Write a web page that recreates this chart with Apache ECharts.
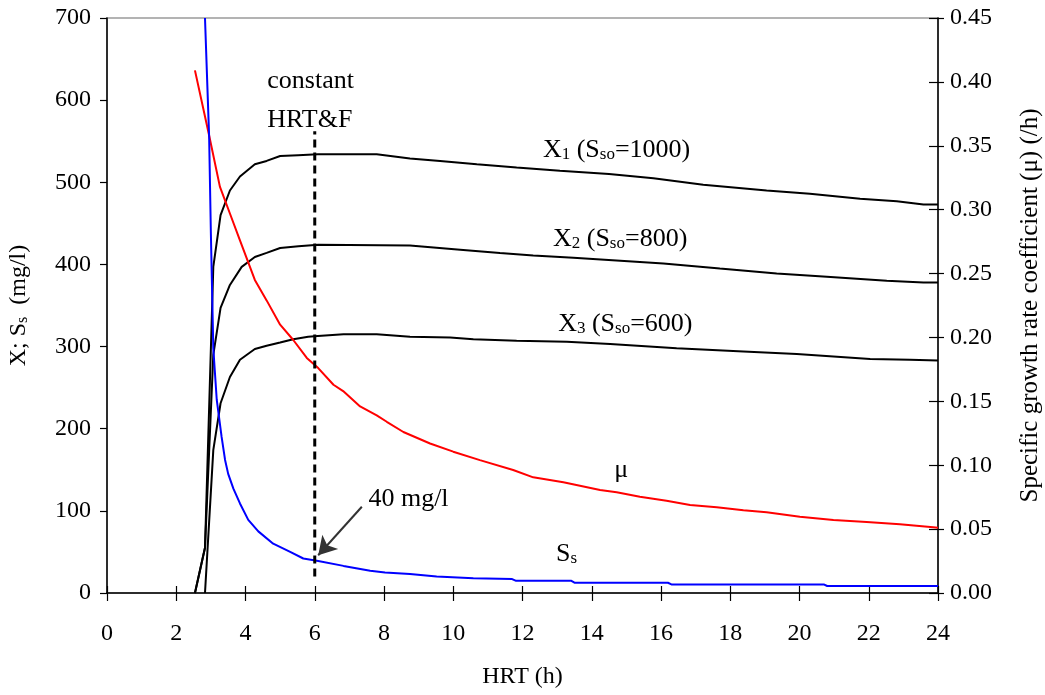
<!DOCTYPE html>
<html>
<head>
<meta charset="utf-8">
<script src="https://cdn.jsdelivr.net/npm/echarts@6/dist/echarts.min.js"></script>
<style>html,body{margin:0;padding:0;background:#fff}#c{width:1045px;height:695px}</style>
</head>
<body>
<div id="c"></div>
<script>
// ---- data ----
const xTicks = [0, 24, 2];
const leftTicks = [0, 700, 100];
const rightTicks = [0, 0.45, 0.05];

const x1X = [2.54, 2.83, 3.07, 3.28, 3.55, 3.84, 4.27, 4.61, 5.0, 5.52, 6.09, 7.79, 8.75, 9.62, 10.68, 11.83, 13.08, 14.5, 15.78, 17.22, 19.05, 20.3, 21.75, 22.81, 23.58, 24];
const x1Y = [0, 55, 397, 460, 490, 507, 522, 526, 532, 533, 534, 534, 529, 526, 522, 518, 514, 510, 505, 497, 490, 486, 480, 477, 473, 473];

const x2X = [2.54, 2.83, 3.07, 3.28, 3.55, 3.89, 4.27, 4.61, 5.0, 5.53, 6.1, 8.75, 10.2, 11.35, 12.31, 13.47, 14.6, 16.07, 17.7, 19.34, 20.79, 22.52, 23.58, 24];
const x2Y = [0, 55, 290, 347, 375, 397, 409, 414, 420, 422, 424, 423, 418, 414, 411, 408, 405, 401, 395, 389, 385, 380, 378, 378];

const x3X = [2.83, 3.07, 3.28, 3.55, 3.84, 4.27, 4.61, 5.0, 5.38, 5.81, 6.09, 6.83, 7.79, 8.75, 9.91, 10.58, 11.83, 13.28, 14.53, 16.45, 18.38, 19.92, 22.04, 23.19, 24];
const x3Y = [0, 174, 231, 263, 284, 297, 301, 305, 309, 312, 313, 315, 315, 312, 311, 309, 307, 306, 303, 298, 294, 291, 285, 284, 283];

const ssX = [2.83, 2.95, 3.0, 3.07, 3.17, 3.31, 3.41, 3.5, 3.65, 3.84, 4.08, 4.37, 4.8, 5.29, 5.67, 6.1, 6.83, 7.6, 8.03, 8.75, 9.52, 10.58, 11.7, 11.8, 13.4, 13.5, 16.2, 16.3, 20.7, 20.8, 24];
const ssY = [700, 555, 438, 298, 235, 190, 162, 145, 127, 109, 89, 75, 60, 50, 42, 39, 33, 27, 25, 23, 20, 18, 17, 15, 15, 12.5, 12.5, 10.5, 10.5, 8.5, 8.5];

const muX = [2.54, 2.95, 3.26, 3.55, 3.84, 4.27, 4.61, 5.0, 5.38, 5.77, 6.1, 6.54, 6.82, 7.31, 7.79, 8.08, 8.56, 9.33, 10.0, 10.77, 11.73, 12.31, 13.18, 14.24, 14.72, 15.39, 16.16, 16.84, 17.61, 18.38, 19.05, 20.01, 20.98, 21.94, 22.9, 23.86, 24];
const muY = [0.409, 0.358, 0.318, 0.297, 0.276, 0.245, 0.229, 0.210, 0.198, 0.184, 0.176, 0.163, 0.158, 0.146, 0.139, 0.134, 0.126, 0.117, 0.1106, 0.104, 0.0963, 0.0905, 0.0866, 0.0806, 0.0788, 0.0754, 0.0722, 0.0689, 0.0671, 0.0647, 0.0632, 0.0597, 0.0571, 0.0556, 0.0538, 0.0514, 0.051];

const constHRT = 6;
const dashY = [20, 562];
const arrowFrom = [7.36, 105];
const arrowTo = [6.1, 46];

// annotation anchors (data coordinates, left axis)
const annotations = [
  { at: [12.59, 542], text: '{b|X}{s|1}{b| (S}{s|so}{b|=1000)}' },
  { at: [12.88, 433], text: '{b|X}{s|2}{b| (S}{s|so}{b|=800)}' },
  { at: [13.03, 330], text: '{b|X}{s|3}{b| (S}{s|so}{b|=600)}' },
  { at: [14.65, 152], text: '{b|μ}' },
  { at: [12.97, 50], text: '{b|S}{s|s}' },
  { at: [4.63, 625], text: '{b|constant}' },
  { at: [4.63, 578], text: '{b|HRT&F}' },
  { at: [7.55, 117], text: '{b|40 mg/l}' }
];

// ---- chart ----
const FONT = '"Liberation Serif", "Times New Roman", serif';
const FS = 24;
const AFS = 26;
const rich = {
  b: { fontFamily: FONT, fontSize: AFS, color: '#000', verticalAlign: 'bottom', lineHeight: 30 },
  s: { fontFamily: FONT, fontSize: 17, color: '#000', verticalAlign: 'bottom', lineHeight: 27 }
};
const richAxis = {
  s: { fontFamily: FONT, fontSize: 16, color: '#000', verticalAlign: 'bottom', lineHeight: 25 }
};
const zip = (a, b) => a.map((v, i) => [v, b[i]]);

const chart = echarts.init(document.getElementById('c'), null, { renderer: 'canvas' });
const lineBase = { type: 'line', showSymbol: false, symbol: 'none', animation: false, silent: true };

chart.setOption({
  animation: false,
  backgroundColor: '#fff',
  grid: { left: 107, right: 107, top: 18, bottom: 102, show: true, borderColor: '#9a9a9a', borderWidth: 1.5, containLabel: false, outerBoundsMode: 'none' },
  xAxis: [
    {
      type: 'value', position: 'bottom', min: xTicks[0], max: xTicks[1], interval: xTicks[2],
      axisLine: { show: true, onZero: false, lineStyle: { color: '#000', width: 1.5 } },
      axisTick: { show: true, length: 8, lineStyle: { color: '#000', width: 1.2 } },
      axisLabel: { fontFamily: FONT, fontSize: FS, color: '#000', margin: 29 },
      splitLine: { show: false },
      name: 'HRT (h)', nameLocation: 'middle', nameGap: 72,
      nameTextStyle: { fontFamily: FONT, fontSize: FS, color: '#000' }
    },
    {
      type: 'value', position: 'bottom', min: xTicks[0], max: xTicks[1], interval: xTicks[2],
      axisLine: { show: false, onZero: false },
      axisTick: { show: true, inside: true, length: 7, lineStyle: { color: '#000', width: 1.2 } },
      axisLabel: { show: false }, splitLine: { show: false }
    }
  ],
  yAxis: [
    {
      type: 'value', position: 'left', min: leftTicks[0], max: leftTicks[1], interval: leftTicks[2],
      axisLine: { show: true, onZero: false, lineStyle: { color: '#000', width: 1.5 } },
      axisTick: { show: true, length: 7, lineStyle: { color: '#000', width: 1.2 } },
      axisLabel: { fontFamily: FONT, fontSize: FS, color: '#000', margin: 16 },
      splitLine: { show: false },
      name: 'X; S{s|s}  (mg/l)', nameLocation: 'middle', nameGap: 76, nameRotate: 90,
      nameTextStyle: { fontFamily: FONT, fontSize: FS, color: '#000', rich: richAxis }
    },
    {
      type: 'value', position: 'right', min: rightTicks[0], max: rightTicks[1], interval: rightTicks[2],
      axisLine: { show: true, onZero: false, lineStyle: { color: '#000', width: 1.5 } },
      axisTick: { show: true, length: 6, lineStyle: { color: '#000', width: 1.2 } },
      axisLabel: { fontFamily: FONT, fontSize: FS, color: '#000', margin: 12, formatter: v => v.toFixed(2) },
      splitLine: { show: false },
      name: 'Specific growth rate coefficient (μ) (/h)', nameLocation: 'middle', nameGap: 80, nameRotate: 90,
      nameTextStyle: { fontFamily: FONT, fontSize: 25, color: '#000' }
    },
    {
      type: 'value', position: 'right', min: rightTicks[0], max: rightTicks[1], interval: rightTicks[2],
      axisLine: { show: false, onZero: false },
      axisTick: { show: true, inside: true, length: 9, lineStyle: { color: '#000', width: 1.2 } },
      axisLabel: { show: false }, splitLine: { show: false }
    }
  ],
  series: [
    Object.assign({}, lineBase, { name: 'X1', data: zip(x1X, x1Y), lineStyle: { color: '#000', width: 2 }, itemStyle: { color: '#000' } }),
    Object.assign({}, lineBase, { name: 'X2', data: zip(x2X, x2Y), lineStyle: { color: '#000', width: 2 }, itemStyle: { color: '#000' } }),
    Object.assign({}, lineBase, { name: 'X3', data: zip(x3X, x3Y), lineStyle: { color: '#000', width: 2 }, itemStyle: { color: '#000' } }),
    Object.assign({}, lineBase, { name: 'mu', yAxisIndex: 1, data: zip(muX, muY), lineStyle: { color: '#ff0000', width: 2 }, itemStyle: { color: '#ff0000' } }),
    Object.assign({}, lineBase, { name: 'Ss', data: zip(ssX, ssY), lineStyle: { color: '#0000ff', width: 2 }, itemStyle: { color: '#0000ff' } }),
    Object.assign({}, lineBase, {
      name: 'constant', data: dashY.map(y => [constHRT, y]),
      lineStyle: { color: '#000', width: 3, type: [8, 5] }, itemStyle: { color: '#000' },
      markLine: {
        silent: true, animation: false, symbol: ['none', 'arrow'], symbolSize: [16, 18],
        label: { show: false },
        lineStyle: { color: '#333', width: 2, type: 'solid' },
        data: [[{ coord: arrowFrom }, { coord: arrowTo }]]
      }
    }),
    {
      type: 'scatter', silent: true, animation: false, symbol: 'circle', symbolSize: 0,
      data: annotations.map(a => ({ value: a.at, label: { formatter: a.text } })),
      label: { show: true, position: 'right', distance: 0, rich: rich, color: '#000', opacity: 1, textBorderWidth: 0 },
      itemStyle: { color: '#000', opacity: 1 }
    }
  ]
});
</script>
</body>
</html>
